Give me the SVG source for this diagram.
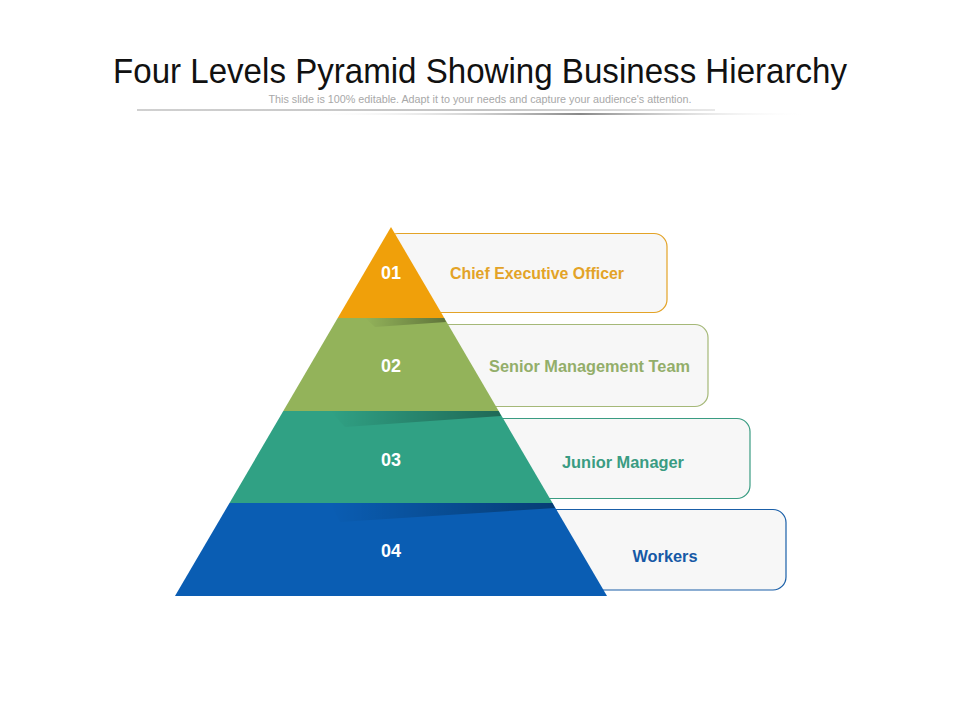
<svg xmlns="http://www.w3.org/2000/svg" width="960" height="720" viewBox="0 0 960 720">
<defs>
<linearGradient id="lineA" x1="0" x2="1" y1="0" y2="0">
<stop offset="0" stop-color="#d0d0d0"/><stop offset="0.6" stop-color="#c4c4c4"/><stop offset="1" stop-color="#e8e8e8"/>
</linearGradient>
<linearGradient id="lineB" x1="0" x2="1" y1="0" y2="0">
<stop offset="0" stop-color="#ffffff" stop-opacity="0"/><stop offset="0.55" stop-color="#888"/><stop offset="1" stop-color="#ffffff" stop-opacity="0"/>
</linearGradient>
<linearGradient id="shade" x1="0" x2="1" y1="0" y2="0">
<stop offset="0" stop-color="#000" stop-opacity="0"/><stop offset="1" stop-color="#000" stop-opacity="0.35"/>
</linearGradient>
<style>
.box{fill:#f7f7f7;stroke-width:1.2}
.num{font-family:"Liberation Sans Narrow","Liberation Sans",Arial,sans-serif;font-weight:bold;font-size:18px;fill:#fff;text-anchor:middle}
.lbl{font-family:"Liberation Sans Narrow","Liberation Sans",Arial,sans-serif;font-weight:bold;font-size:17px;text-anchor:middle}
</style>
</defs>
<rect width="960" height="720" fill="#fff"/>
<g id="title">
<text x="480" y="83" text-anchor="middle" font-family="'Liberation Sans Narrow','Liberation Sans',Arial,sans-serif" font-size="35" fill="#111" textLength="734" lengthAdjust="spacingAndGlyphs">Four Levels Pyramid Showing Business Hierarchy</text>
<text x="480" y="103" text-anchor="middle" font-family="'Liberation Sans Narrow','Liberation Sans',Arial,sans-serif" font-size="11" fill="#a8a8a8" textLength="423" lengthAdjust="spacingAndGlyphs">This slide is 100% editable. Adapt it to your needs and capture your audience's attention.</text>
<rect x="137" y="109" width="578" height="2" fill="url(#lineA)"/>
<rect x="300" y="113" width="510" height="2" fill="url(#lineB)"/>
</g>
<g id="node4">
<rect class="box" x="480" y="509.5" width="306" height="80.5" rx="13" stroke="#1a5fa8"/>
<text class="lbl" x="665" y="562" fill="#1659a6" textLength="65" lengthAdjust="spacingAndGlyphs">Workers</text>
</g>
<g id="node3">
<rect class="box" x="440" y="418.5" width="310" height="80" rx="13" stroke="#3a9c82"/>
<text class="lbl" x="623" y="468" fill="#3a9c82" textLength="122" lengthAdjust="spacingAndGlyphs">Junior Manager</text>
</g>
<g id="node2">
<rect class="box" x="410" y="324.5" width="298" height="82" rx="13" stroke="#a5b878"/>
<text class="lbl" x="589.5" y="372" fill="#93ae6a" textLength="201" lengthAdjust="spacingAndGlyphs">Senior Management Team</text>
</g>
<g id="node1">
<rect class="box" x="385" y="233.5" width="282" height="79" rx="13" stroke="#e3a327"/>
<text class="lbl" x="537" y="279" fill="#e3a327" textLength="174" lengthAdjust="spacingAndGlyphs">Chief Executive Officer</text>
</g>
<g id="pyramid">
<polygon points="229.5,503 552.5,503 607,596 175,596" fill="#0a5db3"/>
<polygon points="330,503 552.5,503 555,508 340,522" fill="url(#shade)"/>
<text class="num" x="391" y="557" textLength="20" lengthAdjust="spacingAndGlyphs">04</text>
<polygon points="283.3,411 498.7,411 552.5,503 229.5,503" fill="#30a184"/>
<polygon points="330,411 498.7,411 501,416 345,427" fill="url(#shade)"/>
<text class="num" x="391" y="466" textLength="20" lengthAdjust="spacingAndGlyphs">03</text>
<polygon points="337.7,318 444.3,318 498.7,411 283.3,411" fill="#93b35a"/>
<polygon points="365,318 444.3,318 446,322 375,327" fill="url(#shade)"/>
<text class="num" x="391" y="372" textLength="20" lengthAdjust="spacingAndGlyphs">02</text>
<polygon points="391,227 444.3,318 337.7,318" fill="#f0a00a"/>
<text class="num" x="391" y="279" textLength="20" lengthAdjust="spacingAndGlyphs">01</text>
</g>
</svg>
